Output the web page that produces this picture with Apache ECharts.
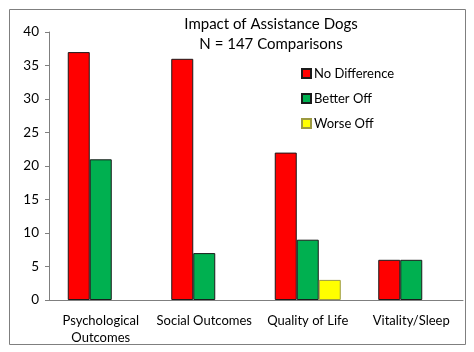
<!DOCTYPE html>
<html>
<head>
<meta charset="utf-8">
<script src="https://cdn.jsdelivr.net/npm/echarts@6/dist/echarts.min.js"></script>
<style>
  html, body { margin: 0; padding: 0; background: #fff; }
  #chart { width: 474px; height: 352px; }
</style>
</head>
<body>
<div id="chart"></div>
<script>
// data
const categories = ["Psychological\nOutcomes", "Social Outcomes", "Quality of Life", "Vitality/Sleep"];
const noDifference = [37, 36, 22, 6];
const betterOff = [21, 7, 9, 6];
const worseOff = [null, null, 3, null];
const yTicks = [0, 5, 10, 15, 20, 25, 30, 35, 40];

const FONT = "Lato";

const chart = echarts.init(document.getElementById("chart"));

const barSeries = (name, data, color, border) => ({
  name: name,
  type: "bar",
  data: data,
  barWidth: 22,
  barGap: "0%",
  itemStyle: { color: color, borderColor: border, borderWidth: 1 },
});

chart.setOption({
  animation: false,
  title: {
    text: "Impact of Assistance Dogs\nN = 147 Comparisons",
    left: 266,
    top: 9,
    textAlign: "center",
    textStyle: { fontFamily: FONT, fontSize: 15, fontWeight: "normal", color: "#000", lineHeight: 20 },
  },
  legend: {
    orient: "vertical",
    left: 296,
    top: 62,
    itemWidth: 9,
    itemHeight: 9,
    itemGap: 12,
    icon: "rect",
    textStyle: { fontFamily: FONT, fontSize: 13, color: "#000", padding: [0, 0, 0, -2] },
    data: ["No Difference", "Better Off", "Worse Off"],
  },
  grid: { left: 49, right: 11, top: 32, bottom: 52 },
  xAxis: {
    type: "category",
    data: categories,
    axisLine: { lineStyle: { color: "#7f7f7f", width: 1 } },
    axisTick: { show: false },
    axisLabel: { fontFamily: FONT, fontSize: 13, color: "#000", margin: 12, lineHeight: 17, interval: 0 },
  },
  yAxis: {
    type: "value",
    min: yTicks[0],
    max: yTicks[yTicks.length - 1],
    interval: 5,
    splitLine: { show: false },
    axisLine: { show: true, lineStyle: { color: "#7f7f7f", width: 1 } },
    axisTick: { show: true, length: 4, lineStyle: { color: "#7f7f7f" } },
    axisLabel: { fontFamily: FONT, fontSize: 13.5, color: "#000", margin: 10 },
  },
  graphic: [{
    type: "rect",
    shape: { x: 9.5, y: 9.5, width: 456, height: 335 },
    style: { fill: "none", stroke: "#7f7f7f", lineWidth: 1 },
    silent: true,
  }],
  series: [
    barSeries("No Difference", noDifference, "#ff0000", "#1a1a1a"),
    barSeries("Better Off", betterOff, "#00b050", "#1a1a1a"),
    barSeries("Worse Off", worseOff, "#ffff00", "#9c9a40"),
  ],
});
</script>
</body>
</html>
